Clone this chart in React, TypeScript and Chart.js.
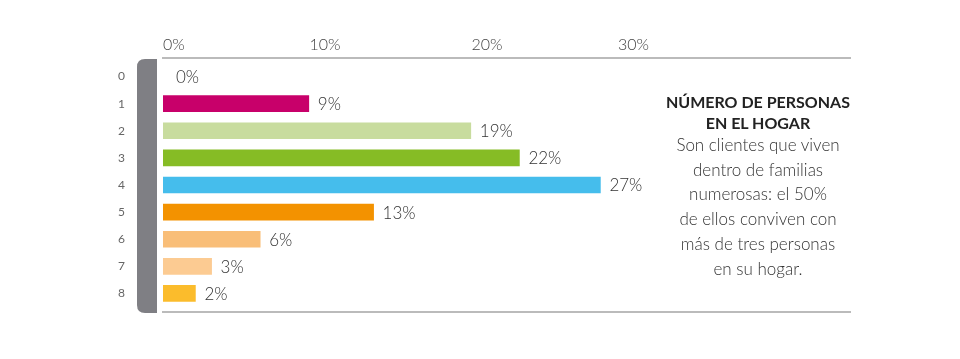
import React, { useEffect, useRef } from "react";
import { Chart, registerables } from "chart.js";

Chart.register(...registerables);

const categories = ["0", "1", "2", "3", "4", "5", "6", "7", "8"];
const values = [0, 9, 19, 22, 27, 13, 6, 3, 2];
const barColors = ["rgba(0,0,0,0)", "#C8006A", "#C8DC9E", "#86BC25", "#45BDEC", "#F39200", "#F9BE78", "#FCCB92", "#FBBC2C"];
const tickValues = [0, 10, 20, 30];
const titleLines = ["NÚMERO DE PERSONAS", "EN EL HOGAR"];
const bodyLines = ["Son clientes que viven", "dentro de familias", "numerosas: el 50%", "de ellos conviven con", "más de tres personas", "en su hogar."];

const FONT = "Lato, 'Open Sans', sans-serif";

const decoPlugin = {
  id: "deco",
  beforeDatasetsDraw(chart: any) {
    const { ctx, chartArea } = chart;
    const { left, right, top, bottom } = chartArea;
    ctx.save();
    const x0 = left - 26, x1 = left - 6, y0 = top - 4, y1 = bottom + 6, r = 8;
    ctx.fillStyle = "#7F7F84";
    ctx.beginPath();
    ctx.moveTo(x1, y0);
    ctx.lineTo(x0 + r, y0);
    ctx.quadraticCurveTo(x0, y0, x0, y0 + r);
    ctx.lineTo(x0, y1 - r);
    ctx.quadraticCurveTo(x0, y1, x0 + r, y1);
    ctx.lineTo(x1, y1);
    ctx.closePath();
    ctx.fill();
    ctx.strokeStyle = "#BBBBBB";
    ctx.lineWidth = 2;
    ctx.beginPath();
    ctx.moveTo(left - 1, top - 5);
    ctx.lineTo(right, top - 5);
    ctx.moveTo(left - 1, bottom + 5);
    ctx.lineTo(right, bottom + 5);
    ctx.stroke();
    ctx.restore();
  },
  afterDatasetsDraw(chart: any) {
    const { ctx } = chart;
    const meta = chart.getDatasetMeta(0);
    ctx.save();
    ctx.font = `300 17px ${FONT}`;
    ctx.fillStyle = "#333333";
    ctx.textAlign = "left";
    ctx.textBaseline = "middle";
    meta.data.forEach((bar: any, i: number) => {
      const v = values[i];
      const extra = v === 0 ? 13 : 9;
      ctx.fillText(`${v}%`, bar.x + extra, bar.y + 1);
    });
    ctx.restore();
  },
};

export default function App() {
  const ref = useRef<HTMLCanvasElement>(null);
  useEffect(() => {
    const chart = new Chart(ref.current!, {
      type: "bar",
      data: {
        labels: categories,
        datasets: [
          {
            data: values,
            backgroundColor: barColors,
            barThickness: 16,
            borderWidth: 0,
          },
        ],
      },
      plugins: [decoPlugin],
      options: {
        indexAxis: "y",
        animation: false,
        responsive: false,
        maintainAspectRatio: false,
        layout: { padding: { top: 0, left: 0, right: 109, bottom: 52 } },
        plugins: { legend: { display: false }, tooltip: { enabled: false } },
        scales: {
          x: {
            position: "top",
            min: 0,
            max: 42.47,
            afterFit(scale: any) {
              scale.height = 63;
            },
            afterBuildTicks(scale: any) {
              scale.ticks = tickValues.map((v) => ({ value: v }));
            },
            grid: { display: false, drawTicks: false },
            border: { display: false },
            ticks: {
              align: "inner",
              padding: 9,
              color: "#444444",
              font: { family: FONT, size: 16, weight: "300" },
              callback: (v: any) => `${v}%`,
            },
          },
          y: {
            afterFit(scale: any) {
              scale.width = 163;
            },
            grid: { display: false, drawTicks: false },
            border: { display: false },
            ticks: {
              padding: 38,
              color: "#666666",
              font: { family: FONT, size: 12, weight: "400" },
            },
          },
        },
      },
    } as any);
    return () => chart.destroy();
  }, []);

  return (
    <div style={{ position: "absolute", left: 0, top: 0, width: 960, height: 359, background: "#fff" }}>
      <canvas ref={ref} width={960} height={359} style={{ display: "block" }} />
      <div
        style={{
          position: "absolute",
          left: 638,
          top: 91,
          width: 240,
          textAlign: "center",
          fontFamily: FONT,
        }}
      >
        {titleLines.map((t) => (
          <div key={t} style={{ fontWeight: 700, fontSize: 16, lineHeight: "21px", color: "#222" }}>
            {t}
          </div>
        ))}
        {bodyLines.map((t) => (
          <div key={t} style={{ fontSize: 17, fontWeight: 300, lineHeight: "24.7px", color: "#333" }}>
            {t}
          </div>
        ))}
      </div>
    </div>
  );
}
